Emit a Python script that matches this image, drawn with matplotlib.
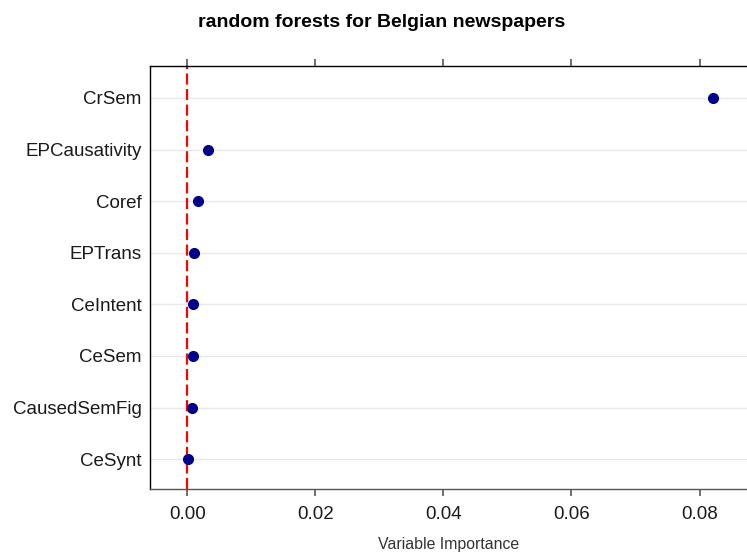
import numpy as np
import matplotlib.pyplot as plt

plt.rcParams['font.family'] = ['Liberation Sans', 'DejaVu Sans']

# variables listed bottom to top
variables = ['CeSynt', 'CausedSemFig', 'CeSem', 'CeIntent',
             'EPTrans', 'Coref', 'EPCausativity', 'CrSem']
importance = [0.0001, 0.0008, 0.0009, 0.0009,
              0.0011, 0.0017, 0.0033, 0.0821]
xticks = [0.00, 0.02, 0.04, 0.06, 0.08]
xtick_labels = ['0.00', '0.02', '0.04', '0.06', '0.08']

fig = plt.figure(figsize=(7.47, 5.53), dpi=100)
ax = fig.add_axes([0.2008, 0.1157, 0.7992, 0.765])

ypos = np.arange(1, len(variables) + 1)

for y in ypos:
    ax.axhline(y, color='#e8e8e8', lw=1.0, zorder=0)

ax.axvline(0, color='#ff0000', lw=1.6, linestyle=(0, (5, 2)), zorder=1)
ax.plot(importance, ypos, 'o', color='#00008b', ms=7, zorder=3)

ax.set_xlim(-0.0058, 0.0874)
ax.set_ylim(0.42, 8.62)

ax.set_yticks(ypos)
ax.set_yticklabels(variables, fontsize=13.5, color='#1a1a1a')
ax.tick_params(axis='y', length=0, pad=6)

ax.set_xticks(xticks)
ax.set_xticklabels(xtick_labels, fontsize=13.5, color='#1a1a1a')
ax.tick_params(axis='x', which='both', direction='out', length=5,
               color='#555555', width=1.2, top=True, labeltop=False, pad=7)

ax.spines['right'].set_visible(False)
ax.spines['left'].set_color('black')
ax.spines['top'].set_color('black')
ax.spines['bottom'].set_color('#555555')
for s in ['left', 'top', 'bottom']:
    ax.spines[s].set_linewidth(1.0)

ax.set_xlabel('Variable Importance', fontsize=11.4, color='#333333', labelpad=10)

fig.text(382 / 747, 1 - 27 / 553, 'random forests for Belgian newspapers',
         ha='center', va='baseline', fontsize=14, fontweight='bold')

fig.savefig('out.png', dpi=100)
